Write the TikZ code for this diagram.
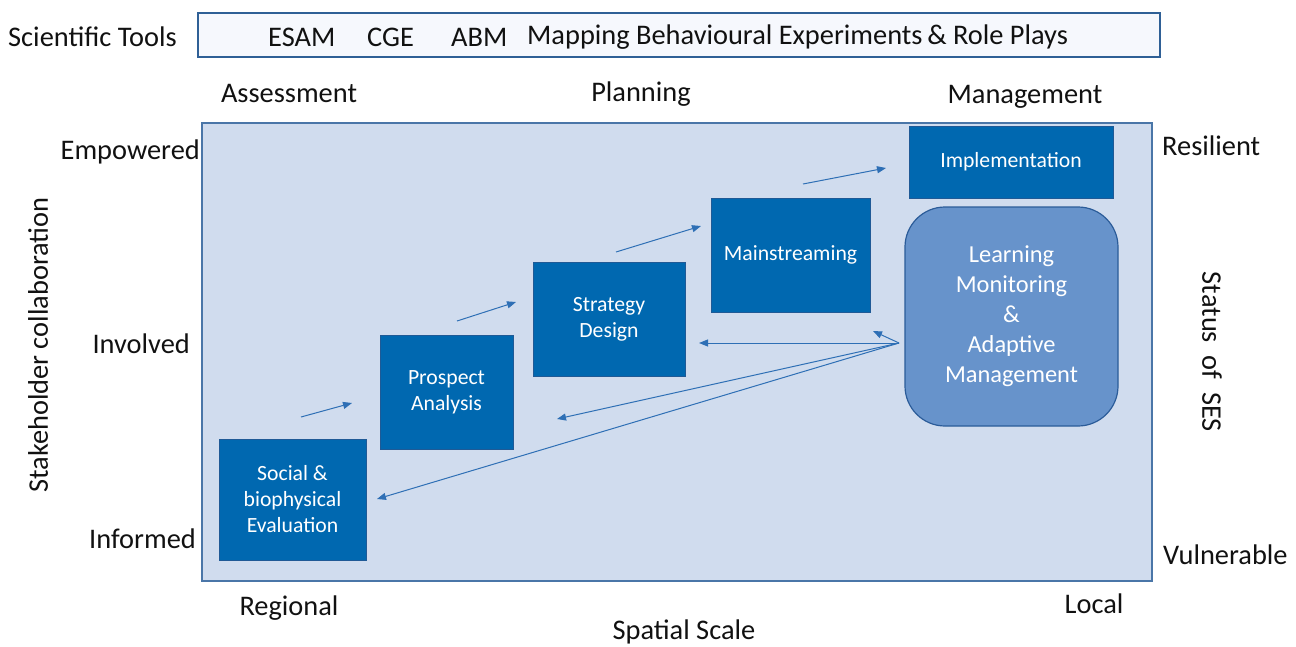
\documentclass[tikz,border=0pt]{standalone}
\usepackage{fontspec}
\setmainfont{Carlito}
\usetikzlibrary{arrows.meta}
\definecolor{panelfill}{HTML}{D0DCEE}
\definecolor{panelline}{HTML}{4A76A8}
\definecolor{boxfill}{HTML}{0068B0}
\definecolor{boxline}{HTML}{1F5A96}
\definecolor{learnfill}{HTML}{6793CB}
\definecolor{learnline}{HTML}{2B5C99}
\definecolor{arrowcol}{HTML}{2E6FB5}
\definecolor{barfill}{HTML}{F6F8FD}
\definecolor{barline}{HTML}{2F6096}
\definecolor{txt}{HTML}{111111}
\tikzset{
  toolbar/.style={draw=barline, line width=1.2pt, fill=barfill, inner sep=0pt},
  panel/.style={draw=panelline, line width=1.5pt, fill=panelfill, inner sep=0pt},
  stepbox/.style={draw=boxline, line width=1pt, fill=boxfill, text=white, align=center,
    inner sep=0pt, font=\fontsize{21.7}{26}\selectfont},
  learnbox/.style={draw=learnline, line width=1.2pt, fill=learnfill, text=white, align=center,
    rounded corners=40pt, inner sep=0pt, font=\fontsize{24.4}{30}\selectfont},
  lbl/.style={text=txt, inner sep=0pt, font=\fontsize{28.4}{32}\selectfont},
  tooltxt/.style={text=txt, inner sep=0pt, anchor=west, font=\fontsize{28.4}{32}\selectfont},
  arr/.style={draw=arrowcol, line width=1pt, -{Triangle[length=9pt,width=7pt]}},
}
\begin{document}
\begin{tikzpicture}[x=1pt,y=-1pt]
\useasboundingbox (0,0) rectangle (1296,646);

% top toolbar
\node[toolbar, minimum width=962pt, minimum height=44pt] (bar) at (679,35) {};
\node[lbl, anchor=west] (sci) at (8,37) {Scientific Tools};
\node[tooltxt] (esam) at (268,37) {ESAM};
\node[tooltxt] (cge) at (367,37) {CGE};
\node[tooltxt] (abm) at (451,37) {ABM};
\node[tooltxt] (map) at (527,37) {Mapping Behavioural Experiments\,\& Role Plays};

% main panel
\node[panel, minimum width=950pt, minimum height=458pt] (panel) at (677,352) {};

% phase labels
\node[lbl] (assess) at (289,93) {Assessment};
\node[lbl] (plan) at (641,94) {Planning};
\node[lbl] (manage) at (1025,97) {Management};

% left labels
\node[lbl, anchor=east] (emp) at (200,152) {Empowered};
\node[lbl, anchor=east] (inv) at (190,344) {Involved};
\node[lbl, anchor=east] (inf) at (196,539) {Informed};
\node[lbl, rotate=90] (stake) at (38,345) {Stakeholder collaboration};

% right labels
\node[lbl, anchor=west] (res) at (1162,146) {Resilient};
\node[lbl, anchor=west] (vul) at (1163,555) {Vulnerable};
\node[lbl, rotate=-90] (ses) at (1212,352) {Status\ \ of\ \ SES};

% bottom labels
\node[lbl] (reg) at (289,608) {Regional};
\node[lbl] (loc) at (1094,604) {Local};
\node[lbl] (spat) at (684,632) {Spatial Scale};

% step boxes
\node[stepbox, minimum width=147pt, minimum height=121pt] (soc) at (292.5,499.5) {Social \&\\biophysical\\Evaluation};
\node[stepbox, minimum width=133pt, minimum height=114pt] (pro) at (446.5,392) {Prospect\\Analysis};
\node[stepbox, minimum width=152pt, minimum height=114pt] (str) at (609,319) {Strategy\\Design};
\node[stepbox, minimum width=159pt, minimum height=114pt] (mai) at (790.5,255) {Mainstreaming};
\node[stepbox, minimum width=204pt, minimum height=72pt] (imp) at (1011,162) {Implementation};
\node[learnbox, minimum width=213pt, minimum height=219pt] (lrn) at (1011.5,316.5) {Learning\\Monitoring\\\&\\Adaptive\\Management};

% forward arrows
\coordinate (a1s) at (301,417); \coordinate (a1e) at (352,403);
\coordinate (a2s) at (457,321); \coordinate (a2e) at (516,302);
\coordinate (a3s) at (616,252); \coordinate (a3e) at (701,226);
\coordinate (a4s) at (803,184); \coordinate (a4e) at (886,168);
\draw[arr] (a1s) -- (a1e);
\draw[arr] (a2s) -- (a2e);
\draw[arr] (a3s) -- (a3e);
\draw[arr] (a4s) -- (a4e);

% feedback arrows
\coordinate (fb) at (899,343);
\coordinate (f1) at (699,343);
\coordinate (f2) at (873,331);
\coordinate (f3) at (557,419);
\coordinate (f4) at (377,499);
\draw[arr] (fb) -- (f1);
\draw[arr] (fb) -- (f2);
\draw[arr] (fb) -- (f3);
\draw[arr] (fb) -- (f4);
\end{tikzpicture}
\end{document}
